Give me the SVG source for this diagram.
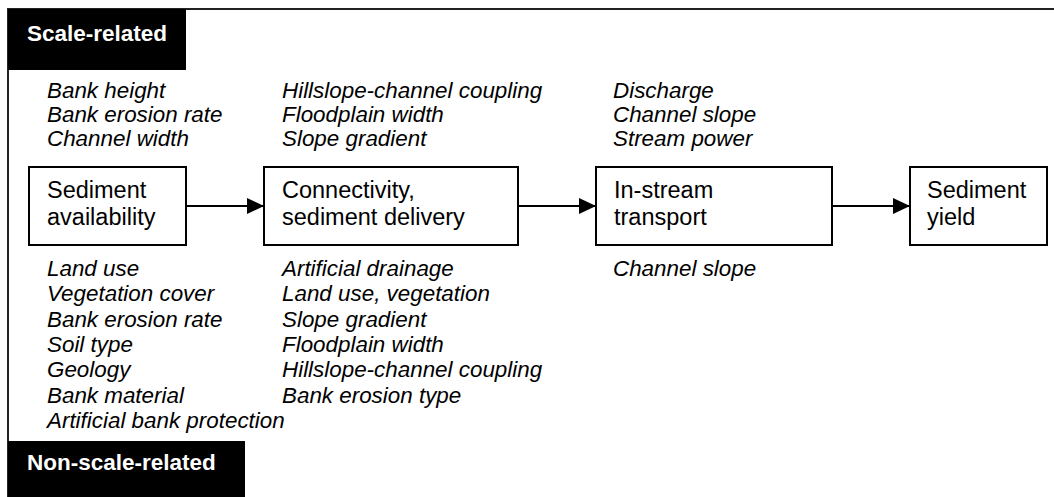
<svg xmlns="http://www.w3.org/2000/svg" width="1054" height="497" viewBox="0 0 1054 497">
  <defs>
    <marker id="arrowhead" markerWidth="17" markerHeight="16" refX="17" refY="8" orient="auto" markerUnits="userSpaceOnUse">
      <path d="M0,0 L17,8 L0,16 Z" fill="#000"/>
    </marker>
    <style>
      .frame { fill: none; stroke: #222; stroke-width: 2; }
      .tag { fill: #000; }
      .tag-text { font-family: "Liberation Sans", Arial, sans-serif; font-size: 22.5px; font-weight: bold; fill: #fff; }
      .box { fill: #fff; stroke: #000; stroke-width: 2; }
      .box-text { font-family: "Liberation Sans", Arial, sans-serif; font-size: 23.5px; fill: #000; }
      .factor { font-family: "Liberation Sans", Arial, sans-serif; font-size: 22.4px; font-style: italic; fill: #000; }
      .link { stroke: #000; stroke-width: 2; fill: none; marker-end: url(#arrowhead); }
    </style>
  </defs>

  <rect width="1054" height="497" fill="#fff"/>

  <!-- outer frame: top and left edges only -->
  <path class="frame" d="M1054,9 H8 V497"/>

  <!-- category tags -->
  <g id="tag-scale">
    <rect class="tag" x="8" y="9" width="178" height="61"/>
    <text class="tag-text" x="27" y="41">Scale-related</text>
  </g>
  <g id="tag-nonscale">
    <rect class="tag" x="8" y="441" width="237" height="56"/>
    <text class="tag-text" x="27" y="470">Non-scale-related</text>
  </g>

  <!-- process nodes -->
  <g id="node-availability">
    <rect class="box" x="29" y="167" width="157" height="78"/>
    <text class="box-text" x="47" y="198">Sediment</text>
    <text class="box-text" x="47" y="225">availability</text>
  </g>
  <g id="node-connectivity">
    <rect class="box" x="264" y="167" width="254" height="78"/>
    <text class="box-text" x="282" y="198">Connectivity,</text>
    <text class="box-text" x="282" y="225">sediment delivery</text>
  </g>
  <g id="node-transport">
    <rect class="box" x="596" y="167" width="236" height="78"/>
    <text class="box-text" x="614" y="198">In-stream</text>
    <text class="box-text" x="614" y="225">transport</text>
  </g>
  <g id="node-yield">
    <rect class="box" x="910" y="167" width="137" height="78"/>
    <text class="box-text" x="927" y="198">Sediment</text>
    <text class="box-text" x="927" y="225">yield</text>
  </g>

  <!-- connectors -->
  <g id="connectors">
    <line class="link" x1="186" y1="206" x2="264" y2="206"/>
    <line class="link" x1="518" y1="206" x2="596" y2="206"/>
    <line class="link" x1="832" y1="206" x2="910" y2="206"/>
  </g>

  <!-- scale-related factors -->
  <g id="scale-factors-availability" class="factor">
    <text x="47" y="98">Bank height</text>
    <text x="47" y="122">Bank erosion rate</text>
    <text x="47" y="146">Channel width</text>
  </g>
  <g id="scale-factors-connectivity" class="factor">
    <text x="282" y="98">Hillslope-channel coupling</text>
    <text x="282" y="122">Floodplain width</text>
    <text x="282" y="146">Slope gradient</text>
  </g>
  <g id="scale-factors-transport" class="factor">
    <text x="613" y="98">Discharge</text>
    <text x="613" y="122">Channel slope</text>
    <text x="613" y="146">Stream power</text>
  </g>

  <!-- non-scale-related factors -->
  <g id="nonscale-factors-availability" class="factor">
    <text x="47" y="276">Land use</text>
    <text x="47" y="301.3">Vegetation cover</text>
    <text x="47" y="326.6">Bank erosion rate</text>
    <text x="47" y="351.9">Soil type</text>
    <text x="47" y="377.2">Geology</text>
    <text x="47" y="402.5">Bank material</text>
    <text x="47" y="427.8">Artificial bank protection</text>
  </g>
  <g id="nonscale-factors-connectivity" class="factor">
    <text x="282" y="276">Artificial drainage</text>
    <text x="282" y="301.3">Land use, vegetation</text>
    <text x="282" y="326.6">Slope gradient</text>
    <text x="282" y="351.9">Floodplain width</text>
    <text x="282" y="377.2">Hillslope-channel coupling</text>
    <text x="282" y="402.5">Bank erosion type</text>
  </g>
  <g id="nonscale-factors-transport" class="factor">
    <text x="613" y="276">Channel slope</text>
  </g>
</svg>
